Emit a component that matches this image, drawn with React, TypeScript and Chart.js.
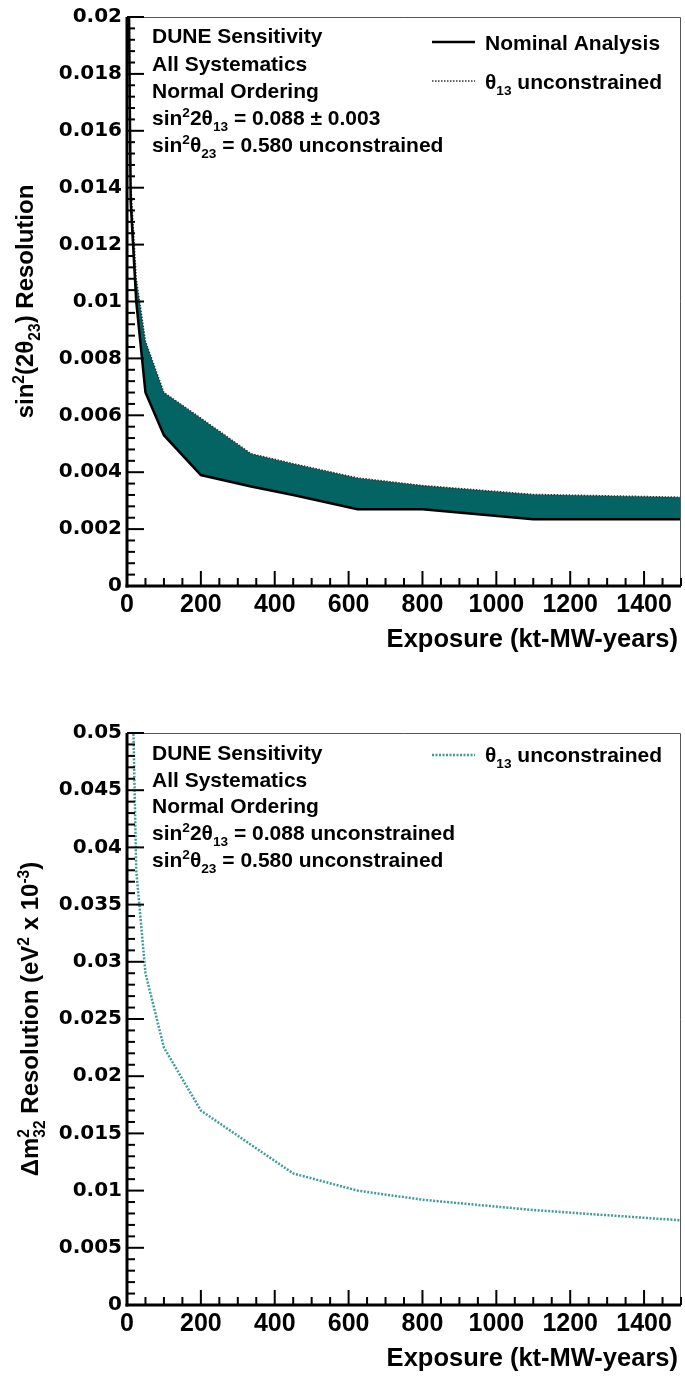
import React, { useEffect, useRef } from 'react';
import { Chart, registerables } from 'chart.js';
Chart.register(...registerables);

// ---------- data ----------
const exposure = [4, 10, 25, 50, 100, 200, 336, 450, 624, 800, 1100, 1500];
const th23Nominal = [0.022, 0.0135, 0.01, 0.0068, 0.0053, 0.0039, 0.0035, 0.0032, 0.0027, 0.0027, 0.00235, 0.00235];
const th23Th13Free = [0.024, 0.0142, 0.0108, 0.0086, 0.0068, 0.0059, 0.00465, 0.0043, 0.0038, 0.00353, 0.00322, 0.00312];
const dm32Th13Free = [0.09, 0.062, 0.038, 0.029, 0.0225, 0.017, 0.014, 0.0115, 0.01, 0.0092, 0.0083, 0.0074];

const xMajorStep = 200;
const xMinorStep = 50;
const topYMajor = 0.002;
const topYMinor = 0.0004;
const botYMajor = 0.005;
const botYMinor = 0.001;

const FAM = '"Liberation Sans", Arial, sans-serif';
const FAM_Y = '"DejaVu Sans", sans-serif';
const TEAL_FILL = '#036463';
const TEAL_LINE = '#3f9c9c';

type Seg = { t: string; sup?: boolean; sub?: boolean; below?: string };

function richWidth(ctx: CanvasRenderingContext2D, segs: Seg[], size: number, fam: string) {
  let w = 0;
  for (const s of segs) {
    if (s.sup || s.sub) {
      ctx.font = `bold ${size * 0.65}px ${fam}`;
      let ww = ctx.measureText(s.t).width;
      if (s.below) ww = Math.max(ww, ctx.measureText(s.below).width);
      w += ww;
    } else {
      ctx.font = `bold ${size}px ${fam}`;
      w += ctx.measureText(s.t).width;
    }
  }
  return w;
}

function drawRich(
  ctx: CanvasRenderingContext2D,
  segs: Seg[],
  x: number,
  y: number,
  size: number,
  fam: string,
  align: 'left' | 'right' | 'center' = 'left'
) {
  const w = richWidth(ctx, segs, size, fam);
  let cx = align === 'right' ? x - w : align === 'center' ? x - w / 2 : x;
  ctx.textAlign = 'left';
  ctx.textBaseline = 'alphabetic';
  ctx.fillStyle = '#000';
  for (const s of segs) {
    if (s.sup || s.sub) {
      ctx.font = `bold ${size * 0.65}px ${fam}`;
      let ww = ctx.measureText(s.t).width;
      if (s.sup) ctx.fillText(s.t, cx, y - size * 0.38);
      else ctx.fillText(s.t, cx, y + size * 0.28);
      if (s.below) {
        ctx.fillText(s.below, cx, y + size * 0.28);
        ww = Math.max(ww, ctx.measureText(s.below).width);
      }
      cx += ww;
    } else {
      ctx.font = `bold ${size}px ${fam}`;
      ctx.fillText(s.t, cx, y);
      cx += ctx.measureText(s.t).width;
    }
  }
}

function line(ctx: CanvasRenderingContext2D, x1: number, y1: number, x2: number, y2: number) {
  ctx.beginPath();
  ctx.moveTo(x1, y1);
  ctx.lineTo(x2, y2);
  ctx.stroke();
}

const rootAxes = {
  id: 'rootAxes',
  afterDatasetsDraw(chart: any) {
    const { ctx, chartArea: a, scales } = chart;
    const x = scales.x;
    const y = scales.y;
    ctx.save();
    ctx.strokeStyle = '#555';
    ctx.lineWidth = 1;
    ctx.beginPath();
    ctx.moveTo(a.left, a.top + 0.5);
    ctx.lineTo(a.right - 0.5, a.top + 0.5);
    ctx.lineTo(a.right - 0.5, a.bottom);
    ctx.stroke();
    ctx.strokeStyle = '#000';
    ctx.lineWidth = 2;
    y.ticks.forEach((t: any) => {
      const p = y.getPixelForValue(t.value);
      const L = t.label ? 17 : 8;
      line(ctx, a.left, p, a.left + L, p);
    });
    x.ticks.forEach((t: any) => {
      const p = x.getPixelForValue(t.value);
      const L = t.label ? 15 : 8;
      line(ctx, p, a.bottom, p, a.bottom - L);
    });
    ctx.lineWidth = 3;
    line(ctx, a.left, a.top, a.left, a.bottom + 1.5);
    line(ctx, a.left - 1.5, a.bottom, a.right, a.bottom);
    ctx.restore();
  },
};

type Spec = {
  width: number;
  height: number;
  padTop: number;
  xAxisH: number;
  yMax: number;
  yMajor: number;
  yMinor: number;
  datasets: any[];
  extras: (ctx: CanvasRenderingContext2D, a: any) => void;
};

function fmtY(v: number, major: number) {
  const r = Math.round(v / major);
  if (Math.abs(v - r * major) > major * 1e-6) return '';
  return String(parseFloat((r * major).toFixed(4)));
}

function Panel({ spec }: { spec: Spec }) {
  const ref = useRef<HTMLCanvasElement | null>(null);
  useEffect(() => {
    document.body.style.margin = '0';
    const canvas = ref.current!;
    const textPlugin = {
      id: 'textPlugin',
      afterDraw(chart: any) {
        const ctx = chart.ctx as CanvasRenderingContext2D;
        ctx.save();
        spec.extras(ctx, chart.chartArea);
        ctx.restore();
      },
    };
    const chart = new Chart(canvas, {
      type: 'line',
      data: {
        datasets: spec.datasets,
      },
      options: {
        responsive: false,
        animation: false,
        devicePixelRatio: 1,
        layout: { padding: { top: spec.padTop, right: 4, left: 0, bottom: 0 } },
        plugins: { legend: { display: false }, tooltip: { enabled: false } },
        elements: { point: { radius: 0 } },
        scales: {
          x: {
            type: 'linear',
            min: 0,
            max: 1500,
            grid: { display: false, drawTicks: false },
            border: { display: false },
            afterFit: (s: any) => {
              s.height = spec.xAxisH;
            },
            ticks: {
              stepSize: xMinorStep,
              autoSkip: false,
              maxRotation: 0,
              padding: 4,
              color: '#000',
              font: { family: FAM, size: 25, weight: 'bold' },
              callback: (v: any) => (Number(v) % xMajorStep === 0 ? String(v) : ''),
            },
          },
          y: {
            type: 'linear',
            min: 0,
            max: spec.yMax,
            grid: { display: false, drawTicks: false },
            border: { display: false },
            afterFit: (s: any) => {
              s.width = 127;
            },
            ticks: {
              stepSize: spec.yMinor,
              autoSkip: false,
              padding: 5,
              color: '#000',
              font: { family: FAM_Y, size: 20, weight: 'bold' },
              callback: (v: any) => fmtY(Number(v), spec.yMajor),
            },
          },
        },
      } as any,
      plugins: [rootAxes, textPlugin],
    });
    return () => chart.destroy();
  }, [spec]);
  return <canvas ref={ref} width={spec.width} height={spec.height} style={{ display: 'block' }} />;
}

const pts = (ys: number[]) => exposure.map((x, i) => ({ x, y: ys[i] }));

const ANN = 21;

const topSpec: Spec = {
  width: 685,
  height: 690,
  padTop: 14,
  xAxisH: 104,
  yMax: 0.02,
  yMajor: topYMajor,
  yMinor: topYMinor,
  datasets: [
    {
      label: 'Nominal Analysis',
      data: pts(th23Nominal),
      borderColor: '#000',
      borderWidth: 2.5,
      fill: false,
      tension: 0,
    },
    {
      label: 'θ13 unconstrained',
      data: pts(th23Th13Free),
      borderColor: '#333',
      borderWidth: 1.5,
      borderDash: [1.5, 1.5],
      backgroundColor: TEAL_FILL,
      fill: '-1',
      tension: 0,
    },
  ],
  extras: (ctx, a) => {
    const lines: Seg[][] = [
      [{ t: 'DUNE Sensitivity' }],
      [{ t: 'All Systematics' }],
      [{ t: 'Normal Ordering' }],
      [{ t: 'sin' }, { t: '2', sup: true }, { t: '2θ' }, { t: '13', sub: true }, { t: ' = 0.088 ± 0.003' }],
      [{ t: 'sin' }, { t: '2', sup: true }, { t: 'θ' }, { t: '23', sub: true }, { t: ' = 0.580 unconstrained' }],
    ];
    const base = [26, 54, 81, 108, 135];
    lines.forEach((l, i) => drawRich(ctx, l, 152, a.top + base[i], ANN, FAM));
    // legend
    ctx.strokeStyle = '#000';
    ctx.lineWidth = 2.5;
    line(ctx, 432, 42, 475, 42);
    drawRich(ctx, [{ t: 'Nominal Analysis' }], 485, 50, ANN, FAM);
    ctx.strokeStyle = '#333';
    ctx.lineWidth = 1.5;
    ctx.setLineDash([1.5, 1.5]);
    line(ctx, 432, 81, 475, 81);
    ctx.setLineDash([]);
    drawRich(ctx, [{ t: 'θ' }, { t: '13', sub: true }, { t: ' unconstrained' }], 485, 89, ANN, FAM);
    // axis titles
    ctx.save();
    ctx.translate(33, (a.top + a.bottom) / 2);
    ctx.rotate(-Math.PI / 2);
    drawRich(ctx, [{ t: 'sin' }, { t: '2', sup: true }, { t: '(2θ' }, { t: '23', sub: true }, { t: ') Resolution' }], 0, 0, 24, FAM, 'center');
    ctx.restore();
    drawRich(ctx, [{ t: 'Exposure (kt-MW-years)' }], 678, a.bottom + 61, 25.5, FAM, 'right');
  },
};

const botSpec: Spec = {
  width: 685,
  height: 689,
  padTop: 43,
  xAxisH: 74,
  yMax: 0.05,
  yMajor: botYMajor,
  yMinor: botYMinor,
  datasets: [
    {
      label: 'θ13 unconstrained',
      data: pts(dm32Th13Free),
      borderColor: TEAL_LINE,
      borderWidth: 2.5,
      borderDash: [2, 1.5],
      fill: false,
      tension: 0,
    },
  ],
  extras: (ctx, a) => {
    const lines: Seg[][] = [
      [{ t: 'DUNE Sensitivity' }],
      [{ t: 'All Systematics' }],
      [{ t: 'Normal Ordering' }],
      [{ t: 'sin' }, { t: '2', sup: true }, { t: '2θ' }, { t: '13', sub: true }, { t: ' = 0.088 unconstrained' }],
      [{ t: 'sin' }, { t: '2', sup: true }, { t: 'θ' }, { t: '23', sub: true }, { t: ' = 0.580 unconstrained' }],
    ];
    const base = [27, 54, 80, 107, 134];
    lines.forEach((l, i) => drawRich(ctx, l, 152, a.top + base[i], ANN, FAM));
    ctx.strokeStyle = TEAL_LINE;
    ctx.lineWidth = 2.5;
    ctx.setLineDash([2, 1.5]);
    line(ctx, 432, 65, 475, 65);
    ctx.setLineDash([]);
    drawRich(ctx, [{ t: 'θ' }, { t: '13', sub: true }, { t: ' unconstrained' }], 485, 72, ANN, FAM);
    ctx.save();
    ctx.translate(38, (a.top + a.bottom) / 2);
    ctx.rotate(-Math.PI / 2);
    drawRich(
      ctx,
      [
        { t: 'Δm' },
        { t: '2', sup: true, below: '32' },
        { t: ' Resolution (eV' },
        { t: '2', sup: true },
        { t: ' x 10' },
        { t: '-3', sup: true },
        { t: ')' },
      ],
      0,
      0,
      24,
      FAM,
      'center'
    );
    ctx.restore();
    drawRich(ctx, [{ t: 'Exposure (kt-MW-years)' }], 678, a.bottom + 61, 25.5, FAM, 'right');
  },
};

export default function App() {
  return (
    <div style={{ width: 685, height: 1379, background: '#fff' }}>
      <Panel spec={topSpec} />
      <Panel spec={botSpec} />
    </div>
  );
}
